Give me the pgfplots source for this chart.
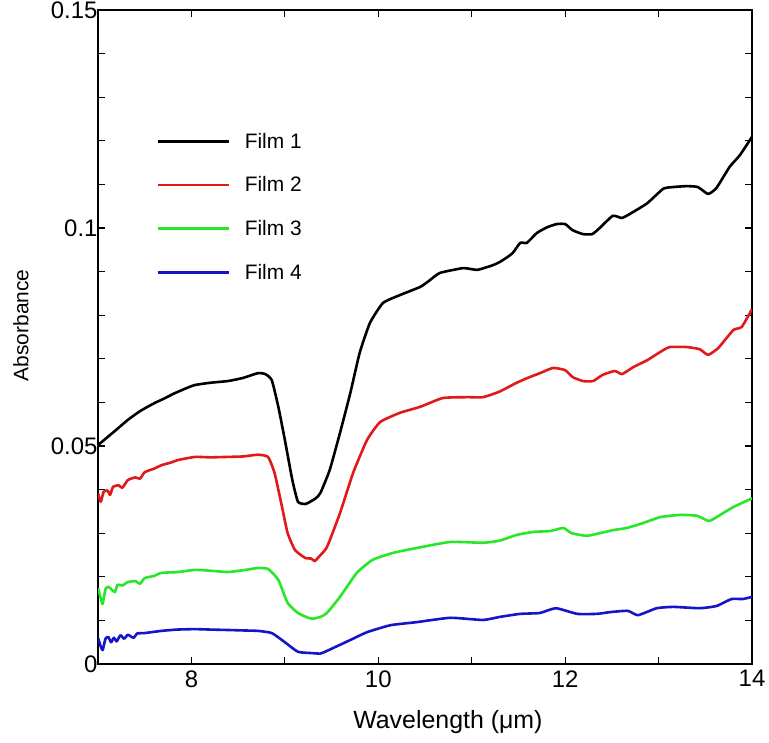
\documentclass[border=0pt]{standalone}
\usepackage{fontspec}
\setmainfont{Liberation Sans}
\usepackage{pgfplots}
\pgfplotsset{compat=1.18}
\definecolor{fred}{RGB}{225,25,25}
\definecolor{fgreen}{RGB}{40,230,40}
\definecolor{fblue}{RGB}{20,20,200}
\begin{document}
\begin{tikzpicture}
\begin{axis}[
  name=ax,
  scale only axis,
  width=654bp, height=654bp,
  xmin=7, xmax=14, ymin=0, ymax=0.15,
  xtick={8,10,12,14}, xticklabels={8,10,12,14},
  minor xtick={7,9,11,13},
  ytick={0,0.05,0.1,0.15}, yticklabels={0,0.05,0.1,0.15},
  minor ytick={0.01,0.02,0.03,0.04,0.06,0.07,0.08,0.09,0.11,0.12,0.13,0.14},
  /pgf/number format/assume math mode=true,
  tick align=inside,
  major tick length=7bp, minor tick length=7bp,
  every tick/.style={black, line width=1.2bp},
  axis line style={line width=1.2bp},
  ticklabel style={font=\fontsize{24}{28}\selectfont},
  xticklabel style={yshift=-3bp},
  yticklabel style={xshift=3bp},
  xlabel={Wavelength (μm)},
  ylabel={Absorbance},
  xlabel style={at={(axis description cs:0.535,-0.0887)}, anchor=center, font=\fontsize{25}{30}\selectfont},
  ylabel style={at={(axis description cs:-0.1177,0.518)}, anchor=center, font=\fontsize{21}{25}\selectfont},
  legend style={at={(axis description cs:0.0887,0.815)}, anchor=north west, draw=none, fill=none,
    font=\fontsize{21}{25}\selectfont, row sep=23bp, inner sep=0pt,
    /tikz/every odd column/.append style={column sep=13bp}},
  legend cell align=left,
  legend image code/.code={\draw[#1] (0bp,0bp) -- (71bp,0bp);},
  every axis plot/.append style={line width=2.6bp, line join=round, smooth, tension=0.3},
]
\addplot[black] coordinates {
(7.00,0.0502) (7.10,0.0520) (7.20,0.0538) (7.32,0.0560) (7.45,0.0580) (7.60,0.0598)
(7.70,0.0608) (7.82,0.0621) (7.95,0.0633) (8.04,0.0640) (8.20,0.0645) (8.39,0.0649)
(8.55,0.0656) (8.71,0.0667) (8.79,0.0665) (8.86,0.0651) (8.93,0.0590) (9.00,0.0514)
(9.08,0.0422) (9.14,0.0372) (9.22,0.0367) (9.27,0.0372) (9.33,0.0380) (9.38,0.0392)
(9.48,0.0445) (9.59,0.0530) (9.70,0.0621) (9.80,0.0713) (9.91,0.0782) (10.05,0.0828)
(10.23,0.0846) (10.45,0.0865) (10.55,0.0880) (10.66,0.0897) (10.91,0.0908) (11.06,0.0904)
(11.23,0.0915) (11.30,0.0922) (11.38,0.0933) (11.44,0.0943) (11.52,0.0966) (11.59,0.0966)
(11.70,0.0989) (11.81,0.1002) (11.91,0.1009) (12.00,0.1009) (12.08,0.0995) (12.19,0.0986)
(12.29,0.0986) (12.37,0.1000) (12.51,0.1028) (12.61,0.1023) (12.73,0.1037) (12.88,0.1057)
(13.05,0.1090) (13.16,0.1094) (13.30,0.1096) (13.42,0.1094) (13.53,0.1078) (13.62,0.1092)
(13.76,0.1140) (13.87,0.1167) (14.00,0.1209)
};
\addlegendentry{Film 1}
\addplot[fred] coordinates {
(7.00,0.0392) (7.03,0.0372) (7.06,0.0395) (7.10,0.0398) (7.13,0.0388) (7.16,0.0406)
(7.22,0.0410) (7.26,0.0404) (7.32,0.0422) (7.40,0.0428) (7.45,0.0425) (7.50,0.0440)
(7.60,0.0448) (7.68,0.0456) (7.78,0.0462) (7.86,0.0468) (8.04,0.0475) (8.20,0.0474)
(8.39,0.0475) (8.55,0.0476) (8.71,0.0480) (8.82,0.0475) (8.89,0.0438) (8.97,0.0360)
(9.03,0.0300) (9.11,0.0261) (9.22,0.0243) (9.28,0.0242) (9.32,0.0236) (9.36,0.0245)
(9.45,0.0268) (9.59,0.0346) (9.73,0.0438) (9.88,0.0514) (10.02,0.0555) (10.23,0.0576)
(10.45,0.0590) (10.69,0.0610) (10.95,0.0612) (11.12,0.0612) (11.30,0.0625) (11.48,0.0645)
(11.62,0.0658) (11.73,0.0667) (11.87,0.0679) (12.00,0.0674) (12.08,0.0658) (12.19,0.0649)
(12.30,0.0649) (12.40,0.0663) (12.53,0.0672) (12.61,0.0665) (12.73,0.0681) (12.88,0.0697)
(13.02,0.0716) (13.12,0.0727) (13.30,0.0727) (13.44,0.0722) (13.53,0.0709) (13.64,0.0725)
(13.80,0.0766) (13.89,0.0773) (14.00,0.0814)
};
\addlegendentry{Film 2}
\addplot[fgreen] coordinates {
(7.00,0.0174) (7.03,0.0150) (7.05,0.0138) (7.08,0.0172) (7.11,0.0177) (7.15,0.0170)
(7.18,0.0165) (7.21,0.0182) (7.26,0.0180) (7.32,0.0188) (7.40,0.0190) (7.45,0.0184)
(7.50,0.0197) (7.60,0.0202) (7.68,0.0209) (7.86,0.0211) (8.04,0.0216) (8.20,0.0214)
(8.39,0.0211) (8.55,0.0215) (8.71,0.0220) (8.82,0.0218) (8.93,0.0193) (9.03,0.0140)
(9.14,0.0117) (9.25,0.0106) (9.30,0.0104) (9.38,0.0108) (9.45,0.0117) (9.59,0.0154)
(9.77,0.0209) (9.94,0.0239) (10.16,0.0255) (10.41,0.0266) (10.77,0.0280) (11.12,0.0278)
(11.30,0.0283) (11.48,0.0296) (11.66,0.0303) (11.84,0.0305) (11.98,0.0312) (12.07,0.0300)
(12.23,0.0294) (12.37,0.0300) (12.51,0.0307) (12.66,0.0312) (12.83,0.0323) (13.02,0.0337)
(13.23,0.0342) (13.41,0.0340) (13.54,0.0328) (13.66,0.0342) (13.80,0.0360) (14.00,0.0380)
};
\addlegendentry{Film 3}
\addplot[fblue] coordinates {
(7.00,0.0060) (7.03,0.0040) (7.05,0.0032) (7.08,0.0058) (7.11,0.0062) (7.14,0.0050)
(7.17,0.0060) (7.20,0.0052) (7.24,0.0066) (7.28,0.0058) (7.32,0.0067) (7.38,0.0060)
(7.42,0.0070) (7.50,0.0071) (7.68,0.0076) (7.85,0.0079) (8.04,0.0080) (8.20,0.0079)
(8.39,0.0078) (8.55,0.0077) (8.71,0.0076) (8.86,0.0071) (9.00,0.0050) (9.14,0.0028)
(9.29,0.0025) (9.38,0.0024) (9.45,0.0030) (9.52,0.0037) (9.70,0.0055) (9.88,0.0073)
(10.13,0.0089) (10.41,0.0096) (10.77,0.0106) (11.12,0.0101) (11.30,0.0108) (11.52,0.0115)
(11.73,0.0117) (11.90,0.0128) (12.13,0.0115) (12.34,0.0115) (12.48,0.0119) (12.67,0.0122)
(12.78,0.0112) (12.98,0.0128) (13.16,0.0131) (13.44,0.0128) (13.62,0.0133) (13.78,0.0149)
(13.90,0.0149) (14.00,0.0154)
};
\addlegendentry{Film 4}
\end{axis}
\pgfresetboundingbox
\path (ax.south west) ++(-98bp,-78bp) rectangle ([xshift=17bp,yshift=10bp]ax.north east);
\end{tikzpicture}
\end{document}
